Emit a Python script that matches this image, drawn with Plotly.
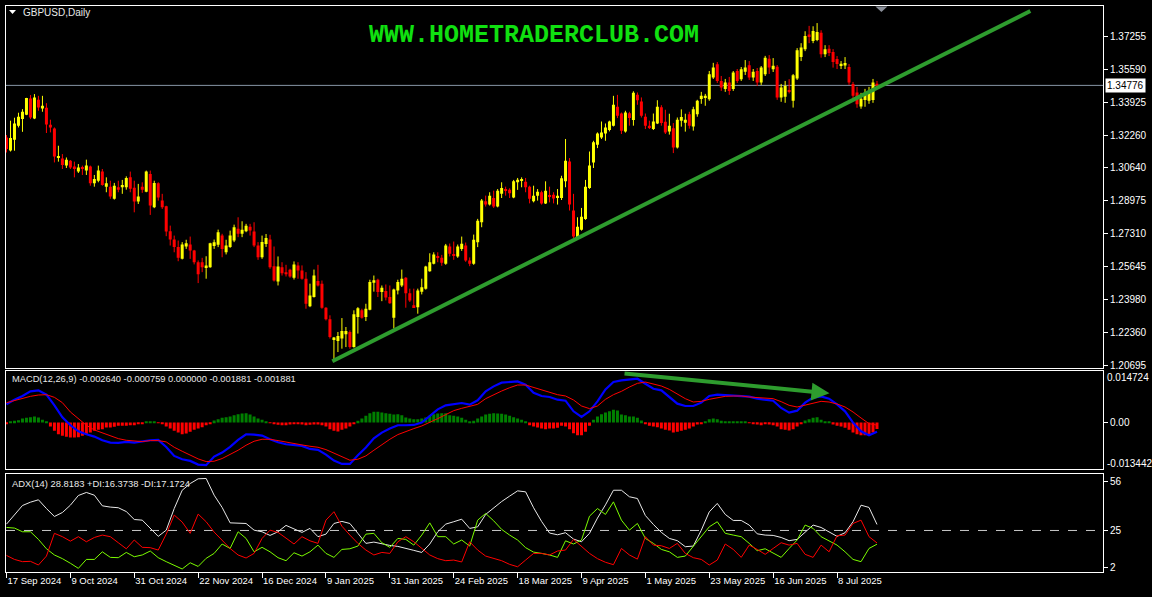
import plotly.graph_objects as go

# ---------------- data ----------------
date_labels = ["17 Sep 2024", "9 Oct 2024", "31 Oct 2024", "22 Nov 2024", "16 Dec 2024",
               "9 Jan 2025", "31 Jan 2025", "24 Feb 2025", "18 Mar 2025", "9 Apr 2025",
               "1 May 2025", "23 May 2025", "16 Jun 2025", "8 Jul 2025"]
date_label_bars = [0, 16, 32, 48, 64, 80, 96, 112, 128, 144, 160, 176, 192, 208]

price_ticks = [1.20695, 1.22360, 1.23980, 1.25645, 1.27310, 1.28975,
               1.30640, 1.32260, 1.33925, 1.35590, 1.37255]
current_price = 1.34776
macd_max, macd_min = 0.014724, -0.013442
adx_ticks = [2, 25, 56]
adx_level = 25

opens = [
    1.3216, 1.3150, 1.3204, 1.3275, 1.3308, 1.3330, 1.3412, 1.3311, 1.3405, 1.3361,
    1.3365, 1.3280, 1.3261, 1.3117, 1.3110, 1.3074, 1.3099, 1.3069, 1.3045, 1.3065,
    1.3049, 1.3069, 1.2985, 1.2998, 1.3044, 1.2968, 1.2968, 1.2907, 1.2965, 1.2965,
    1.2965, 1.3015, 1.2963, 1.2893, 1.2968, 1.2943, 1.3032, 1.2864, 1.2985, 1.2898,
    1.2869, 1.2744, 1.2702, 1.2664, 1.2605, 1.2667, 1.2677, 1.2647, 1.2588, 1.2588,
    1.2562, 1.2563, 1.2669, 1.2676, 1.2722, 1.2638, 1.2664, 1.2697, 1.2756, 1.2731,
    1.2744, 1.2767, 1.2742, 1.2672, 1.2613, 1.2680, 1.2702, 1.2568, 1.2491, 1.2563,
    1.2538, 1.2550, 1.2510, 1.2572, 1.2546, 1.2505, 1.2366, 1.2413, 1.2493, 1.2480,
    1.2359, 1.2301, 1.2199, 1.2192, 1.2204, 1.2225, 1.2237, 1.2161, 1.2312, 1.2346,
    1.2312, 1.2349, 1.2485, 1.2500, 1.2438, 1.2443, 1.2413, 1.2309, 1.2446, 1.2471,
    1.2510, 1.2432, 1.2371, 1.2362, 1.2440, 1.2455, 1.2543, 1.2580, 1.2617, 1.2610,
    1.2580, 1.2667, 1.2628, 1.2617, 1.2655, 1.2672, 1.2597, 1.2580, 1.2688, 1.2789,
    1.2895, 1.2878, 1.2911, 1.2868, 1.2932, 1.2952, 1.2952, 1.2914, 1.2990, 1.2998,
    1.2993, 1.2968, 1.2895, 1.2923, 1.2940, 1.2884, 1.2923, 1.2928, 1.2914, 1.2911,
    1.2995, 1.3095, 1.2848, 1.2714, 1.2751, 1.2806, 1.2962, 1.3090, 1.3179, 1.3216,
    1.3236, 1.3253, 1.3275, 1.3370, 1.3336, 1.3246, 1.3338, 1.3303, 1.3430, 1.3397,
    1.3320, 1.3275, 1.3258, 1.3286, 1.3367, 1.3295, 1.3245, 1.3262, 1.3165, 1.3300,
    1.3290, 1.3333, 1.3271, 1.3333, 1.3409, 1.3417, 1.3408, 1.3517, 1.3584, 1.3500,
    1.3459, 1.3492, 1.3459, 1.3550, 1.3509, 1.3546, 1.3579, 1.3517, 1.3550, 1.3492,
    1.3534, 1.3612, 1.3559, 1.3572, 1.3417, 1.3420, 1.3454, 1.3400, 1.3512, 1.3620,
    1.3659, 1.3734, 1.3701, 1.3706, 1.3743, 1.3634, 1.3662, 1.3645, 1.3610, 1.3580,
    1.3578, 1.3570, 1.3484, 1.3442, 1.3372, 1.3404, 1.3400, 1.3404, 1.3486]

highs = [
    1.3228, 1.3300, 1.3315, 1.3340, 1.3358, 1.3415, 1.3429, 1.3434, 1.3425, 1.3425,
    1.3388, 1.3305, 1.3266, 1.3174, 1.3132, 1.3115, 1.3102, 1.3094, 1.3082, 1.3074,
    1.3104, 1.3074, 1.3027, 1.3074, 1.3057, 1.3015, 1.2998, 1.2987, 1.2998, 1.3002,
    1.3020, 1.3044, 1.2998, 1.2982, 1.2990, 1.3049, 1.3049, 1.2998, 1.2990, 1.2932,
    1.2872, 1.2772, 1.2722, 1.2697, 1.2689, 1.2701, 1.2717, 1.2650, 1.2597, 1.2610,
    1.2618, 1.2686, 1.2702, 1.2752, 1.2731, 1.2701, 1.2747, 1.2777, 1.2814, 1.2794,
    1.2781, 1.2781, 1.2789, 1.2689, 1.2722, 1.2730, 1.2726, 1.2667, 1.2617, 1.2588,
    1.2575, 1.2555, 1.2592, 1.2588, 1.2572, 1.2538, 1.2480, 1.2551, 1.2575, 1.2496,
    1.2362, 1.2321, 1.2212, 1.2237, 1.2307, 1.2262, 1.2245, 1.2346, 1.2362, 1.2354,
    1.2379, 1.2500, 1.2521, 1.2505, 1.2471, 1.2476, 1.2471, 1.2455, 1.2500, 1.2551,
    1.2513, 1.2455, 1.2455, 1.2455, 1.2505, 1.2570, 1.2633, 1.2638, 1.2638, 1.2625,
    1.2680, 1.2682, 1.2692, 1.2677, 1.2717, 1.2687, 1.2612, 1.2727, 1.2806, 1.2906,
    1.2923, 1.2940, 1.2948, 1.2956, 1.2990, 1.2968, 1.2960, 1.3002, 1.3012, 1.3015,
    1.3012, 1.2973, 1.2973, 1.2956, 1.2948, 1.2995, 1.2968, 1.2940, 1.2956, 1.3023,
    1.3208, 1.3112, 1.2932, 1.2814, 1.2861, 1.3002, 1.3145, 1.3199, 1.3241, 1.3296,
    1.3286, 1.3300, 1.3425, 1.3430, 1.3341, 1.3350, 1.3345, 1.3448, 1.3442, 1.3417,
    1.3336, 1.3300, 1.3336, 1.3403, 1.3378, 1.3355, 1.3335, 1.3288, 1.3316, 1.3357,
    1.3335, 1.3345, 1.3370, 1.3405, 1.3445, 1.3435, 1.3550, 1.3591, 1.3595, 1.3525,
    1.3510, 1.3520, 1.3550, 1.3560, 1.3570, 1.3605, 1.3600, 1.3560, 1.3565, 1.3575,
    1.3626, 1.3630, 1.3615, 1.3580, 1.3485, 1.3500, 1.3509, 1.3535, 1.3665, 1.3690,
    1.3750, 1.3777, 1.3775, 1.3791, 1.3755, 1.3680, 1.3680, 1.3660, 1.3625, 1.3600,
    1.3620, 1.3585, 1.3495, 1.3470, 1.3440, 1.3460, 1.3470, 1.3510, 1.3500]

lows = [
    1.3140, 1.3145, 1.3149, 1.3266, 1.3244, 1.3328, 1.3308, 1.3308, 1.3350, 1.3345,
    1.3238, 1.3241, 1.3090, 1.3094, 1.3057, 1.3062, 1.3057, 1.3015, 1.3037, 1.3027,
    1.3027, 1.2973, 1.2968, 1.2990, 1.2973, 1.2940, 1.2907, 1.2903, 1.2940, 1.2932,
    1.2953, 1.2940, 1.2839, 1.2881, 1.2937, 1.2940, 1.2826, 1.2860, 1.2898, 1.2856,
    1.2719, 1.2672, 1.2638, 1.2593, 1.2602, 1.2655, 1.2605, 1.2577, 1.2483, 1.2538,
    1.2505, 1.2560, 1.2655, 1.2664, 1.2613, 1.2627, 1.2660, 1.2689, 1.2714, 1.2714,
    1.2739, 1.2722, 1.2664, 1.2600, 1.2605, 1.2665, 1.2555, 1.2491, 1.2471, 1.2521,
    1.2516, 1.2510, 1.2501, 1.2505, 1.2500, 1.2354, 1.2362, 1.2410, 1.2466, 1.2354,
    1.2295, 1.2204, 1.2098, 1.2136, 1.2153, 1.2161, 1.2153, 1.2158, 1.2229, 1.2304,
    1.2292, 1.2346, 1.2440, 1.2413, 1.2392, 1.2396, 1.2379, 1.2254, 1.2426, 1.2463,
    1.2359, 1.2388, 1.2359, 1.2329, 1.2426, 1.2450, 1.2540, 1.2577, 1.2588, 1.2570,
    1.2575, 1.2617, 1.2600, 1.2610, 1.2645, 1.2590, 1.2568, 1.2575, 1.2664, 1.2764,
    1.2868, 1.2873, 1.2861, 1.2864, 1.2911, 1.2923, 1.2911, 1.2910, 1.2952, 1.2965,
    1.2940, 1.2884, 1.2889, 1.2898, 1.2878, 1.2881, 1.2889, 1.2884, 1.2878, 1.2901,
    1.2965, 1.2848, 1.2706, 1.2711, 1.2747, 1.2801, 1.2957, 1.3062, 1.3162, 1.3208,
    1.3199, 1.3246, 1.3271, 1.3313, 1.3233, 1.3240, 1.3275, 1.3275, 1.3380, 1.3316,
    1.3258, 1.3258, 1.3253, 1.3283, 1.3275, 1.3233, 1.3230, 1.3137, 1.3160, 1.3270,
    1.3245, 1.3260, 1.3250, 1.3320, 1.3385, 1.3375, 1.3400, 1.3510, 1.3490, 1.3450,
    1.3445, 1.3430, 1.3450, 1.3490, 1.3500, 1.3530, 1.3505, 1.3500, 1.3475, 1.3480,
    1.3525, 1.3535, 1.3545, 1.3405, 1.3395, 1.3390, 1.3437, 1.3366, 1.3505, 1.3600,
    1.3650, 1.3690, 1.3690, 1.3700, 1.3617, 1.3620, 1.3625, 1.3567, 1.3560, 1.3560,
    1.3560, 1.3480, 1.3410, 1.3365, 1.3360, 1.3370, 1.3385, 1.3390, 1.3465]

closes = [
    1.3157, 1.3213, 1.3286, 1.3320, 1.3345, 1.3414, 1.3316, 1.3417, 1.3366, 1.3375,
    1.3281, 1.3266, 1.3120, 1.3121, 1.3077, 1.3104, 1.3065, 1.3057, 1.3065, 1.3057,
    1.3074, 1.2985, 1.3007, 1.3049, 1.2977, 1.2985, 1.2918, 1.2973, 1.2953, 1.2977,
    1.3012, 1.2957, 1.2893, 1.2918, 1.2953, 1.3044, 1.2873, 1.2987, 1.2914, 1.2864,
    1.2742, 1.2702, 1.2664, 1.2610, 1.2677, 1.2684, 1.2647, 1.2588, 1.2527, 1.2563,
    1.2572, 1.2684, 1.2689, 1.2739, 1.2655, 1.2672, 1.2722, 1.2764, 1.2731, 1.2751,
    1.2772, 1.2747, 1.2672, 1.2613, 1.2690, 1.2710, 1.2563, 1.2496, 1.2567, 1.2533,
    1.2527, 1.2516, 1.2577, 1.2546, 1.2505, 1.2379, 1.2421, 1.2521, 1.2471, 1.2359,
    1.2301, 1.2212, 1.2209, 1.2217, 1.2242, 1.2242, 1.2161, 1.2326, 1.2357, 1.2309,
    1.2354, 1.2488, 1.2497, 1.2438, 1.2460, 1.2410, 1.2382, 1.2451, 1.2488, 1.2505,
    1.2432, 1.2396, 1.2362, 1.2446, 1.2462, 1.2567, 1.2588, 1.2627, 1.2610, 1.2585,
    1.2672, 1.2630, 1.2622, 1.2667, 1.2681, 1.2597, 1.2580, 1.2701, 1.2797, 1.2898,
    1.2878, 1.2923, 1.2868, 1.2948, 1.2962, 1.2948, 1.2935, 1.2995, 1.3003, 1.3005,
    1.2965, 1.2907, 1.2923, 1.2943, 1.2884, 1.2948, 1.2918, 1.2909, 1.2923, 1.3010,
    1.3099, 1.2878, 1.2717, 1.2767, 1.2817, 1.2968, 1.3074, 1.3191, 1.3236, 1.3241,
    1.3266, 1.3296, 1.3380, 1.3325, 1.3249, 1.3341, 1.3313, 1.3440, 1.3403, 1.3325,
    1.3275, 1.3266, 1.3296, 1.3370, 1.3288, 1.3241, 1.3275, 1.3165, 1.3305, 1.3318,
    1.3305, 1.3275, 1.3358, 1.3400, 1.3425, 1.3425, 1.3534, 1.3567, 1.3500, 1.3467,
    1.3492, 1.3450, 1.3542, 1.3500, 1.3559, 1.3567, 1.3517, 1.3546, 1.3492, 1.3567,
    1.3617, 1.3567, 1.3576, 1.3417, 1.3467, 1.3475, 1.3447, 1.3529, 1.3655, 1.3668,
    1.3726, 1.3726, 1.3751, 1.3746, 1.3634, 1.3660, 1.3640, 1.3595, 1.3585, 1.3587,
    1.3590, 1.3492, 1.3425, 1.3383, 1.3410, 1.3434, 1.3450, 1.3492, 1.3478]

# MACD main / signal, read at every second bar (0, 2, 4, ... 218)
macd_main = [
    0.00523, 0.00657, 0.00763, 0.00897, 0.00925, 0.00801, 0.00494, 0.00149, -0.00080, -0.00253,
    -0.00339, -0.00406, -0.00512, -0.00579, -0.00588, -0.00559, -0.00579, -0.00540, -0.00512, -0.00502,
    -0.00703, -0.00962, -0.01058, -0.01106, -0.01211, -0.01230, -0.00981, -0.00866, -0.00703, -0.00502,
    -0.00339, -0.00349, -0.00377, -0.00483, -0.00569, -0.00627, -0.00646, -0.00674, -0.00761, -0.00789,
    -0.00924, -0.01096, -0.01192, -0.01192, -0.00943, -0.00722, -0.00454, -0.00291, -0.00176, -0.00080,
    -0.00080, -0.00071, -0.00004, 0.00188, 0.00379, 0.00494, 0.00533, 0.00561, 0.00513, 0.00638,
    0.00897, 0.01040, 0.01146, 0.01174, 0.01184, 0.01088, 0.00858, 0.00763, 0.00734, 0.00657,
    0.00628, 0.00322, 0.00159, 0.00322, 0.00609, 0.00954, 0.01165, 0.01213, 0.01242, 0.01261,
    0.01117, 0.00973, 0.00925, 0.00734, 0.00542, 0.00475, 0.00475, 0.00571, 0.00763, 0.00801,
    0.00791, 0.00763, 0.00763, 0.00743, 0.00686, 0.00667, 0.00628, 0.00418, 0.00284, 0.00341,
    0.00571, 0.00715, 0.00753, 0.00686, 0.00523, 0.00322, -0.00004, -0.00253, -0.00368, -0.00264]

macd_signal = [
    0.00571, 0.00628, 0.00705, 0.00753, 0.00791, 0.00801, 0.00724, 0.00571, 0.00303, 0.00111,
    -0.00080, -0.00215, -0.00301, -0.00387, -0.00464, -0.00512, -0.00540, -0.00550, -0.00521, -0.00521,
    -0.00559, -0.00713, -0.00828, -0.00943, -0.01048, -0.01125, -0.01115, -0.01038, -0.00924, -0.00799,
    -0.00655, -0.00540, -0.00483, -0.00483, -0.00521, -0.00569, -0.00617, -0.00646, -0.00684, -0.00713,
    -0.00780, -0.00876, -0.00991, -0.01086, -0.01058, -0.00962, -0.00799, -0.00636, -0.00483, -0.00349,
    -0.00253, -0.00176, -0.00100, -0.00004, 0.00111, 0.00226, 0.00341, 0.00408, 0.00466, 0.00523,
    0.00686, 0.00801, 0.00906, 0.01002, 0.01079, 0.01079, 0.01012, 0.00954, 0.00878, 0.00801,
    0.00763, 0.00648, 0.00475, 0.00399, 0.00475, 0.00667, 0.00801, 0.00897, 0.01021, 0.01127,
    0.01165, 0.01107, 0.01050, 0.00954, 0.00820, 0.00686, 0.00590, 0.00609, 0.00667, 0.00715,
    0.00753, 0.00763, 0.00763, 0.00734, 0.00715, 0.00696, 0.00686, 0.00600, 0.00494, 0.00446,
    0.00494, 0.00561, 0.00609, 0.00590, 0.00533, 0.00446, 0.00303, 0.00130, -0.00033, -0.00076]

# MACD histogram, every bar
macd_hist = [
    -0.00029, 0.00029, 0.00048, 0.00067, 0.00115, 0.00134, 0.00153, 0.00172, 0.00144, 0.00077,
    0.00029, -0.00115, -0.00240, -0.00335, -0.00383, -0.00412, -0.00431, -0.00431, -0.00422, -0.00383,
    -0.00335, -0.00287, -0.00240, -0.00211, -0.00192, -0.00144, -0.00144, -0.00125, -0.00096, -0.00096,
    -0.00096, -0.00077, -0.00077, -0.00048, -0.00029, 0.00019, 0.00019, 0.00010, -0.00010, -0.00029,
    -0.00115, -0.00172, -0.00240, -0.00287, -0.00335, -0.00316, -0.00268, -0.00211, -0.00172, -0.00134,
    -0.00077, -0.00029, 0.00057, 0.00096, 0.00134, 0.00153, 0.00172, 0.00211, 0.00240, 0.00259,
    0.00268, 0.00230, 0.00172, 0.00115, 0.00077, 0.00029, -0.00010, -0.00048, -0.00067, -0.00077,
    -0.00077, -0.00057, -0.00048, -0.00038, -0.00057, -0.00077, -0.00067, -0.00057, -0.00057, -0.00077,
    -0.00115, -0.00192, -0.00240, -0.00259, -0.00211, -0.00172, -0.00115, -0.00038, 0.00048, 0.00115,
    0.00192, 0.00268, 0.00307, 0.00307, 0.00287, 0.00268, 0.00249, 0.00230, 0.00240, 0.00211,
    0.00144, 0.00115, 0.00096, 0.00096, 0.00115, 0.00144, 0.00192, 0.00240, 0.00259, 0.00268,
    0.00268, 0.00211, 0.00192, 0.00172, 0.00134, 0.00077, 0.00029, 0.00048, 0.00115, 0.00172,
    0.00230, 0.00249, 0.00268, 0.00259, 0.00249, 0.00230, 0.00192, 0.00153, 0.00115, 0.00077,
    0.00019, -0.00077, -0.00115, -0.00144, -0.00172, -0.00192, -0.00172, -0.00172, -0.00153, -0.00096,
    -0.00115, -0.00192, -0.00307, -0.00364, -0.00364, -0.00268, -0.00096, 0.00077, 0.00172, 0.00240,
    0.00287, 0.00326, 0.00364, 0.00345, 0.00230, 0.00211, 0.00172, 0.00172, 0.00134, 0.00057,
    -0.00029, -0.00096, -0.00115, -0.00134, -0.00172, -0.00211, -0.00230, -0.00287, -0.00268, -0.00240,
    -0.00211, -0.00172, -0.00115, -0.00057, -0.00029, 0.00029, 0.00096, 0.00115, 0.00096, 0.00048,
    0.00029, 0.00019, 0.00010, 0.00010, 0.00010, 0.00010, -0.00019, -0.00038, -0.00057, -0.00077,
    -0.00048, -0.00057, -0.00077, -0.00115, -0.00192, -0.00211, -0.00230, -0.00192, -0.00115, -0.00038,
    0.00057, 0.00096, 0.00134, 0.00153, 0.00077, 0.00029, 0.00010, -0.00057, -0.00096, -0.00115,
    -0.00153, -0.00211, -0.00287, -0.00335, -0.00364, -0.00364, -0.00345, -0.00287, -0.00188]

# ADX(14), +DI, -DI read at every second bar
adx_main = [
    29.0, 34.9, 40.7, 42.8, 44.3, 38.8, 33.8, 36.3, 40.9, 47.0,
    48.9, 47.2, 40.5, 39.7, 39.3, 36.9, 31.9, 31.5, 26.3, 21.3,
    25.2, 38.8, 50.3, 54.5, 57.5, 57.7, 47.2, 39.5, 29.8, 29.4,
    29.4, 25.2, 24.2, 21.9, 24.2, 28.2, 25.9, 23.8, 26.3, 21.1,
    22.7, 29.4, 30.7, 29.4, 23.2, 16.9, 17.7, 16.5, 15.6, 15.0,
    13.9, 12.5, 11.2, 16.5, 24.2, 29.0, 30.5, 32.1, 26.3, 27.3,
    35.1, 39.3, 43.2, 46.6, 49.9, 49.3, 39.3, 30.7, 23.4, 22.3,
    23.6, 19.6, 17.9, 23.2, 32.8, 41.1, 50.3, 50.3, 46.2, 45.1,
    34.4, 28.8, 23.8, 20.0, 18.6, 14.8, 15.2, 25.2, 36.7, 42.0,
    35.1, 31.3, 31.3, 28.4, 22.9, 22.1, 21.9, 20.6, 18.6, 19.4,
    23.8, 28.4, 26.9, 24.2, 21.3, 23.6, 30.5, 40.9, 39.5, 28.8]

plus_di = [
    26.9, 26.5, 24.2, 24.2, 19.4, 13.5, 9.6, 7.3, 4.4, 1.2,
    6.8, 6.8, 11.6, 8.1, 7.9, 11.2, 8.5, 9.6, 12.1, 7.9,
    5.4, 3.1, 0.8, 4.7, 2.4, 7.5, 10.6, 16.5, 13.7, 24.2,
    20.0, 11.6, 14.4, 11.6, 7.9, 6.0, 11.0, 8.9, 11.6, 15.8,
    10.6, 8.1, 13.1, 13.5, 15.2, 22.7, 23.2, 17.3, 14.4, 20.0,
    19.4, 15.8, 22.1, 29.8, 21.1, 21.1, 16.5, 19.0, 15.2, 31.5,
    35.7, 31.1, 25.7, 22.1, 19.0, 14.2, 11.4, 10.6, 9.6, 8.1,
    18.5, 16.5, 19.0, 34.0, 38.8, 35.1, 43.0, 31.5, 25.2, 29.4,
    20.0, 16.9, 13.1, 11.6, 8.1, 8.9, 14.8, 21.1, 27.3, 30.5,
    23.2, 22.1, 21.1, 16.9, 12.3, 13.5, 11.0, 8.1, 13.7, 19.0,
    28.4, 26.3, 21.1, 18.3, 15.8, 11.6, 6.8, 5.4, 13.7, 16.4]

minus_di = [
    9.3, 6.8, 5.4, 5.6, 3.3, 8.9, 23.2, 21.1, 18.3, 21.1,
    17.9, 20.6, 22.1, 21.1, 17.3, 13.5, 19.0, 14.4, 14.2, 12.7,
    22.7, 34.7, 30.3, 23.2, 35.3, 30.5, 24.0, 18.5, 13.7, 9.6,
    7.7, 10.6, 20.0, 25.2, 23.8, 20.2, 16.5, 21.1, 18.5, 16.9,
    31.5, 36.8, 27.7, 22.1, 16.9, 12.7, 9.6, 11.2, 10.6, 17.9,
    21.1, 17.9, 13.7, 9.6, 7.3, 6.0, 6.4, 5.2, 17.9, 12.7,
    8.9, 7.3, 6.0, 3.7, 2.2, 6.4, 10.6, 10.6, 9.6, 12.1,
    12.7, 19.4, 14.8, 10.6, 7.3, 5.0, 3.5, 13.7, 9.6, 7.0,
    21.1, 15.8, 15.4, 13.7, 16.9, 10.6, 7.9, 6.8, 3.3, 6.4,
    16.5, 13.1, 8.1, 15.8, 13.1, 10.0, 13.7, 17.3, 15.8, 16.9,
    10.0, 8.1, 15.8, 11.6, 21.7, 22.1, 29.4, 31.5, 21.1, 17.2]

# hand-drawn objects on the chart (bar index, price / value)
trend_start = (81.6, 1.2090)
trend_end = (256.4, 1.3852)
arrow_start = (154.4, 0.01414)
arrow_end = (206.1, 0.00839)

# ---------------- figure ----------------
n = len(closes)
idx = list(range(n))
idx2 = list(range(0, n, 2))

YEL, RED, GRN = "#ffff00", "#ff0000", "#008000"
LINE_GREEN = "#2e9c2e"

fig = go.Figure()

up = [c >= o for o, c in zip(opens, closes)]
body_base = [min(o, c) for o, c in zip(opens, closes)]
body_h = [max(abs(c - o), 0.0005) for o, c in zip(opens, closes)]
body_col = [YEL if u else RED for u in up]

for want, col in ((True, YEL), (False, RED)):
    wx, wy = [], []
    for i in idx:
        if up[i] == want:
            lo = min(lows[i], opens[i], closes[i])
            hi = max(highs[i], opens[i], closes[i])
            wx += [i, i, None]
            wy += [lo, hi, None]
    fig.add_trace(go.Scatter(x=wx, y=wy, mode="lines", line=dict(color=col, width=1),
                             xaxis="x", yaxis="y", hoverinfo="skip"))

fig.add_trace(go.Bar(x=idx, y=body_h, base=body_base, width=0.75,
                     marker=dict(color=body_col, line=dict(width=0)),
                     xaxis="x", yaxis="y"))

# MACD
fig.add_trace(go.Bar(x=idx, y=macd_hist, width=0.75,
                     marker=dict(color=[GRN if v >= 0 else RED for v in macd_hist], line=dict(width=0)),
                     xaxis="x2", yaxis="y2"))
fig.add_trace(go.Scatter(x=idx2, y=macd_main, mode="lines", line=dict(color="#0000ff", width=2.2),
                         xaxis="x2", yaxis="y2"))
fig.add_trace(go.Scatter(x=idx2, y=macd_signal, mode="lines", line=dict(color="#ff0000", width=1),
                         xaxis="x2", yaxis="y2"))

# ADX
fig.add_trace(go.Scatter(x=idx2, y=adx_main, mode="lines", line=dict(color="#e8e8e8", width=1),
                         xaxis="x3", yaxis="y3"))
fig.add_trace(go.Scatter(x=idx2, y=plus_di, mode="lines", line=dict(color="#7cfc00", width=1),
                         xaxis="x3", yaxis="y3"))
fig.add_trace(go.Scatter(x=idx2, y=minus_di, mode="lines", line=dict(color="#ff0000", width=1),
                         xaxis="x3", yaxis="y3"))

FONT = "Liberation Sans"
xr = [-0.125, 274.6]
frame = dict(showline=True, linecolor="#ffffff", linewidth=1, mirror=True,
             showgrid=False, zeroline=False)

def px(x):
    return (x - 5) / 1099.0

def py(y):
    return (572 - y) / 567.0

fig.update_layout(
    width=1152, height=597, autosize=False,
    paper_bgcolor="#000000", plot_bgcolor="#000000",
    margin=dict(l=5, r=48, t=5, b=25),
    showlegend=False, barmode="overlay",
    font=dict(family=FONT, size=10, color="#ffffff"),
    xaxis=dict(domain=[0, 1], range=xr, anchor="y", showticklabels=False, ticks="", **frame),
    xaxis2=dict(domain=[0, 1], range=xr, anchor="y2", matches="x", showticklabels=False, ticks="", **frame),
    xaxis3=dict(domain=[0, 1], range=xr, anchor="y3", matches="x",
                tickmode="array", tickvals=date_label_bars, ticktext=date_labels,
                ticks="outside", ticklen=5, tickcolor="#ffffff",
                ticklabelposition="outside right",
                tickfont=dict(family=FONT, size=9.5, color="#ffffff"), **frame),
    yaxis=dict(domain=[0.35979, 1], range=[1.2054, 1.3877], side="right", anchor="x",
               tickmode="array", tickvals=price_ticks, ticktext=["%.5f" % v for v in price_ticks],
               ticks="outside", ticklen=4, tickcolor="#ffffff",
               tickfont=dict(family=FONT, size=10, color="#ffffff"), **frame),
    yaxis2=dict(domain=[0.18166, 0.35450], range=[macd_min, macd_max], side="right", anchor="x2",
                tickmode="array", tickvals=[0.0], ticktext=["0.00"],
                ticks="outside", ticklen=4, tickcolor="#ffffff",
                tickfont=dict(family=FONT, size=10, color="#ffffff"), **frame),
    yaxis3=dict(domain=[0, 0.17284], range=[-1.1, 60.4], side="right", anchor="x3",
                tickmode="array", tickvals=adx_ticks, ticktext=[str(v) for v in adx_ticks],
                ticks="outside", ticklen=4, tickcolor="#ffffff",
                tickfont=dict(family=FONT, size=10, color="#ffffff"), **frame),
)

shapes = [
    # current price line
    dict(type="line", xref="x", yref="y", x0=xr[0], x1=xr[1], y0=current_price, y1=current_price,
         line=dict(color="#8796a6", width=1), layer="below"),
    # ADX 25 level
    dict(type="line", xref="x3", yref="y3", x0=xr[0], x1=xr[1], y0=adx_level, y1=adx_level,
         line=dict(color="#c8c8c8", width=1, dash="dash"), layer="below"),
    # trend line
    dict(type="line", xref="x", yref="y", x0=trend_start[0], y0=trend_start[1],
         x1=trend_end[0], y1=trend_end[1], line=dict(color=LINE_GREEN, width=4)),
    # title triangle
    dict(type="path", xref="paper", yref="paper",
         path="M %f %f L %f %f L %f %f Z" % (px(8), py(9), px(15), py(9), px(11.5), py(13)),
         fillcolor="#ffffff", line=dict(width=0)),
    # chart shift marker
    dict(type="path", xref="paper", yref="paper",
         path="M %f %f L %f %f L %f %f Z" % (px(876), py(5.5), px(888), py(5.5), px(882), py(11)),
         fillcolor="#8a8f99", line=dict(width=0)),
]
fig.update_layout(shapes=shapes)

annotations = [
    dict(text="GBPUSD,Daily", xref="paper", yref="paper", x=px(20), y=py(12),
         xanchor="left", yanchor="middle", showarrow=False,
         font=dict(family=FONT, size=10, color="#e8e8e8")),
    dict(text="<b>WWW.HOMETRADERCLUB.COM</b>", xref="paper", yref="paper", x=px(534), y=py(35),
         xanchor="center", yanchor="middle", showarrow=False,
         font=dict(family="Liberation Mono", size=25, color="#10e010")),
    dict(text="MACD(12,26,9) -0.002640 -0.000759 0.000000 -0.001881 -0.001881",
         xref="paper", yref="paper", x=px(9), y=py(379), xanchor="left", yanchor="middle",
         showarrow=False, font=dict(family=FONT, size=9.3, color="#e8e8e8")),
    dict(text="ADX(14) 28.8183 +DI:16.3738 -DI:17.1724",
         xref="paper", yref="paper", x=px(9), y=py(483), xanchor="left", yanchor="middle",
         showarrow=False, font=dict(family=FONT, size=9.4, color="#e8e8e8")),
    dict(text="%.6f" % macd_max, xref="paper", yref="paper", x=px(1106), y=py(377),
         xanchor="left", yanchor="middle", showarrow=False,
         font=dict(family=FONT, size=10, color="#ffffff")),
    dict(text="%.6f" % macd_min, xref="paper", yref="paper", x=px(1106), y=py(463),
         xanchor="left", yanchor="middle", showarrow=False,
         font=dict(family=FONT, size=10, color="#ffffff")),
    dict(text="%.5f" % current_price, xref="paper", yref="y", x=px(1106), y=current_price,
         xanchor="left", yanchor="middle", showarrow=False, bgcolor="#ffffff", borderpad=1,
         font=dict(family=FONT, size=10, color="#000000")),
    # MACD divergence arrow
    dict(text="", xref="x2", yref="y2", axref="x2", ayref="y2",
         x=arrow_end[0], y=arrow_end[1], ax=arrow_start[0], ay=arrow_start[1],
         showarrow=True, arrowhead=2, arrowsize=0.9, arrowwidth=4, arrowcolor=LINE_GREEN),
]
fig.update_layout(annotations=annotations)

fig.write_html("out.html", config={"displayModeBar": False},
               post_script="document.body.style.margin='0px';document.body.style.background='#000';")
